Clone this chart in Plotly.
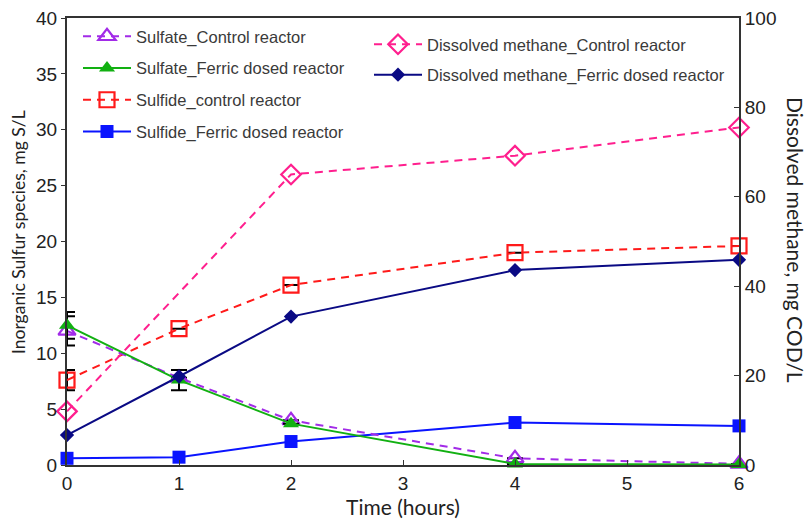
import plotly.graph_objects as go

time_h = [0, 1, 2, 4, 6]

sulfate_control = [12.0, 7.8, 4.0, 0.6, 0.1]
sulfate_ferric = [12.5, 7.6, 3.7, 0.1, 0.05]
sulfide_control = [7.6, 12.2, 16.1, 19.0, 19.6]
sulfide_ferric = [0.6, 0.7, 2.1, 3.8, 3.5]

methane_time = [0, 2, 4, 6]
methane_control = [12.0, 65.0, 69.2, 75.5]
methane_ferric = [6.7, 19.8, 33.2, 43.6, 45.9]

sulfate_control_err = [1.3, 0, 0, 0, 0]
sulfate_ferric_err = [1.2, 0.9, 0, 0, 0]
sulfide_control_err = [0.9, 0, 0, 0, 0]

W, H = 807, 530
L, R, T, B = 67, 739, 18, 465

fig = go.Figure()

def eb(arr):
    return dict(type="data", array=arr, visible=True, color="black", thickness=2, width=8)

TXT = "#3a3a3a"
tick_font = dict(family="Liberation Sans, Arial", size=19, color="#222")
leg_font = dict(family="Liberation Sans, Arial", size=16.5, color=TXT)

fig.add_trace(go.Scatter(
    x=methane_time, y=methane_control, name="Dissolved methane_Control reactor",
    mode="lines+markers", yaxis="y2", legend="legend2", cliponaxis=False,
    line=dict(color="#FF1F8E", width=2, dash="8px,6px"),
    marker=dict(symbol="diamond-open", size=15, color="#FF1F8E", line=dict(width=2.2, color="#FF1F8E"))))
fig.add_trace(go.Scatter(
    x=time_h, y=methane_ferric, name="Dissolved methane_Ferric dosed reactor",
    mode="lines+markers", yaxis="y2", legend="legend2", cliponaxis=False,
    line=dict(color="#0A0A84", width=2),
    marker=dict(symbol="diamond", size=11, color="#0A0A84")))

fig.add_trace(go.Scatter(
    x=time_h, y=sulfide_control, name="Sulfide_control reactor",
    mode="lines+markers", legend="legend", cliponaxis=False,
    error_y=eb(sulfide_control_err),
    line=dict(color="#FF1A1A", width=2, dash="8px,6px"),
    marker=dict(symbol="square-open", size=15, color="#FF1A1A", line=dict(width=2.2, color="#FF1A1A"))))
fig.add_trace(go.Scatter(
    x=time_h, y=sulfide_ferric, name="Sulfide_Ferric dosed reactor",
    mode="lines+markers", legend="legend", cliponaxis=False,
    line=dict(color="#0A14FF", width=2),
    marker=dict(symbol="square", size=13, color="#0A14FF")))
fig.add_trace(go.Scatter(
    x=time_h, y=sulfate_control, name="Sulfate_Control reactor",
    mode="lines+markers", legend="legend", cliponaxis=False,
    error_y=eb(sulfate_control_err),
    line=dict(color="#A22BE8", width=2, dash="8px,6px"),
    marker=dict(symbol="triangle-up-open", size=15, color="#A22BE8", line=dict(width=2.2, color="#A22BE8"))))
fig.add_trace(go.Scatter(
    x=time_h, y=sulfate_ferric, name="Sulfate_Ferric dosed reactor",
    mode="lines+markers", legend="legend", cliponaxis=False,
    error_y=eb(sulfate_ferric_err),
    line=dict(color="#12B012", width=2),
    marker=dict(symbol="triangle-up", size=14, color="#12B012")))

order = {"Sulfate_Control reactor": 1, "Sulfate_Ferric dosed reactor": 2,
         "Sulfide_control reactor": 3, "Sulfide_Ferric dosed reactor": 4,
         "Dissolved methane_Control reactor": 1, "Dissolved methane_Ferric dosed reactor": 2}
for tr in fig.data:
    tr.legendrank = order[tr.name]
    tr.legendgroup = tr.name

title_font = dict(family="Lato", size=21, color="#222")

fig.update_layout(
    width=W, height=H,
    margin=dict(l=L, r=W - R, t=T, b=H - B, pad=0, autoexpand=False),
    paper_bgcolor="white", plot_bgcolor="white",
    showlegend=True,
    xaxis=dict(range=[0, 6], dtick=1, showgrid=False, zeroline=False, automargin=False,
               showline=True, linecolor="#333", linewidth=2, mirror=True,
               ticks="inside", ticklen=5, tickcolor="#333", tickfont=tick_font,
               title=dict(text="Time (hours)", font=title_font, standoff=8)),
    yaxis=dict(range=[0, 40], dtick=5, showgrid=False, zeroline=False, automargin=False,
               showline=True, linecolor="#333", linewidth=2,
               ticks="outside", ticklen=4, tickcolor="#333", tickfont=tick_font),
    yaxis2=dict(range=[0, 100], dtick=20, overlaying="y", side="right", automargin=False,
                showgrid=False, zeroline=False, showline=True, linecolor="#333", linewidth=2,
                ticks="inside", ticklen=5, tickcolor="#333", tickfont=tick_font),
    legend=dict(x=(78 - L) / (R - L), y=(B - 19) / (B - T),
                xanchor="left", yanchor="top", bgcolor="rgba(0,0,0,0)",
                font=leg_font, tracegroupgap=7.3, itemwidth=48, traceorder="grouped"),
    legend2=dict(x=(369 - L) / (R - L), y=(B - 27) / (B - T),
                 xanchor="left", yanchor="top", bgcolor="rgba(0,0,0,0)",
                 font=leg_font, tracegroupgap=6, itemwidth=48, traceorder="grouped"),
    annotations=[
        dict(text="Inorganic Sulfur species, mg S/L", xref="paper", yref="paper",
             x=(18 - L) / (R - L), y=(B - 232) / (B - T), textangle=-90,
             showarrow=False, xanchor="center", yanchor="middle",
             font=dict(family="Lato", size=17.5, color="#222")),
        dict(text="Dissolved methane, mg COD/L", xref="paper", yref="paper",
             x=(795 - L) / (R - L), y=(B - 240) / (B - T), textangle=90,
             showarrow=False, xanchor="center", yanchor="middle",
             font=title_font)],
)

fig.write_html("out.html")
